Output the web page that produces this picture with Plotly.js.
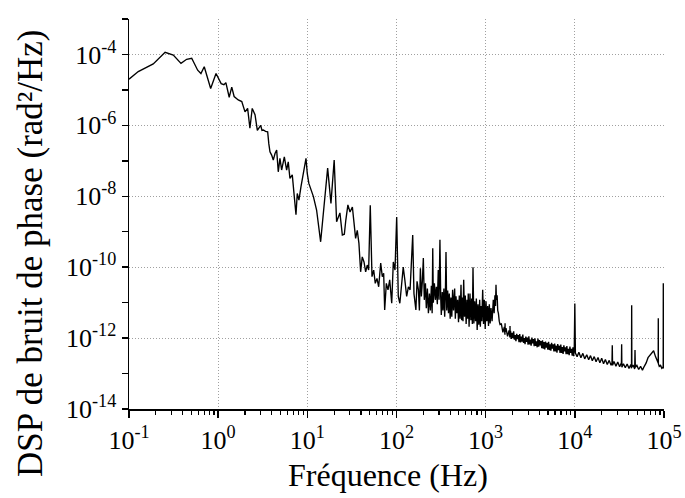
<!DOCTYPE html>
<html>
<head>
<meta charset="utf-8">
<script src="https://cdn.plot.ly/plotly-3.0.1.min.js"></script>
<style>html,body{margin:0;padding:0;background:#fff;}#chart{width:685px;height:498px;}</style>
</head>
<body>
<div id="chart"></div>
<script>
// ---- Data: frequency (Hz) and phase-noise PSD (rad^2/Hz) ----
// Segment A: 0.1 Hz - 1.9 kHz
const freqA = [
  0.1, 0.127, 0.187, 0.254, 0.314, 0.383, 0.443, 0.505, 0.589, 0.641, 0.698, 0.824, 0.946,
  1.08, 1.16, 1.22, 1.33, 1.42, 1.51, 1.68, 1.84, 2.0, 2.14, 2.27, 2.41, 2.59, 2.75, 2.89,
  3.0, 3.1, 3.21, 3.4, 3.59, 3.7, 3.81, 3.98, 4.15, 4.34, 4.53, 4.72, 4.93, 5.15, 5.52, 5.86,
  6.11, 6.38, 6.78, 7.14, 7.46, 7.71, 8.05, 8.48, 8.86, 9.24, 9.66, 9.98, 10.4, 11.7, 12.7,
  14.1, 15.4, 16.9, 18.4, 20.0, 21.3, 23.2, 24.7, 26.0, 27.0, 28.5, 30.1, 32.0, 33.3, 34.8,
  36.3, 37.9, 39.6, 41.3, 43.2, 45.1, 47.0, 48.7, 50.8, 53.1, 55.5, 57.8, 60.4, 63.1, 66.5,
  69.3, 71.8, 73.7, 76.9, 80.3, 83.9, 88.4, 92.1, 96.2, 100.5, 104.7, 109, 114, 119, 124,
  130, 136, 142, 152, 157, 165, 170,
  176, 180.6, 185.3, 190, 195, 200, 205, 211, 216, 222, 228, 234, 240, 246, 251, 255, 259, 266,
  273, 280, 287, 294, 300, 307, 313, 318, 326, 332, 340, 347, 353, 359, 366, 375, 383, 391, 400,
  408, 417, 426, 436, 449, 457, 465, 475, 485, 496, 506, 517, 529, 538, 547, 557, 567, 579, 591,
  604, 617, 628, 638, 652, 667, 682, 697, 709, 721, 737, 753, 770, 786, 803, 820, 838, 857, 872,
  887, 906, 926, 946, 966, 988, 1009, 1031, 1054, 1076, 1099, 1123, 1148, 1180, 1218, 1245, 1270,
  1290, 1306, 1320, 1345, 1365, 1390, 1420, 1449,
  1500, 1560, 1620, 1645, 1650, 1655, 1690, 1760, 1830, 1870, 1875, 1880
];
const psdA = [
  2.0e-5, 3.3e-5, 5.4e-5, 1.15e-4, 9.6e-5, 5.6e-5, 7.3e-5, 7.8e-5, 3.6e-5, 2.9e-5, 4.5e-5, 1.1e-5, 2.9e-5,
  1.5e-5, 1.4e-5, 1.6e-5, 6.2e-6, 1.2e-5, 6.5e-6, 5.2e-6, 4.7e-6, 2.4e-6, 3.0e-6, 8.3e-7, 3.0e-6, 2.0e-6, 7.2e-7, 8.5e-7,
  1.0e-6, 7.2e-7, 7.4e-7, 6.8e-7, 6.6e-7, 3.0e-7, 1.8e-7, 1.45e-7, 1.05e-7, 1.6e-7, 2.0e-7, 4.9e-8, 1.17e-7, 5.5e-8, 1.3e-7, 5.5e-8,
  9.3e-8, 3.2e-8, 4.0e-8, 9.8e-9, 3.0e-9, 1.2e-8, 7.8e-9, 1.85e-8, 3.6e-8, 6.8e-8, 1.17e-7, 4.4e-8, 2.3e-8, 9.8e-9, 4.1e-9,
  5.2e-10, 4.6e-9, 6.2e-8, 6.3e-9, 1.05e-7, 1.9e-9, 3.4e-9, 8.1e-10, 8.5e-10, 2.1e-9, 5.7e-9, 3.6e-9, 5.0e-9, 1.9e-9, 6.5e-10,
  1.1e-9, 4.7e-10, 7.4e-11, 1.95e-10, 1.4e-10, 7.4e-11, 1.15e-10, 8.3e-11, 5.6e-9, 5.4e-11, 8.3e-11, 3.5e-11, 4.8e-11, 2.8e-11, 1.3e-10,
  5.4e-11, 6.7e-11, 6.2e-12, 3.5e-11, 2.3e-11, 4.4e-11, 9.6e-12, 1.4e-10, 8.3e-11, 2.6e-9, 1.5e-11, 9.6e-12, 2.8e-11, 1.0e-10, 4.4e-11,
  1.5e-11, 2.8e-11, 2.3e-11, 8.1e-10, 1.8e-11, 6.2e-12, 4.0e-11,
  2.3e-11, 6.0e-12, 9.3e-11, 1.5e-11, 4.0e-11, 1.8e-10, 1.2e-11, 3.5e-11, 7.0e-12, 2.5e-11, 5.0e-12, 1.8e-11, 6.0e-12, 3.0e-11, 5.0e-12, 3.4e-10, 1.0e-11, 3.5e-11,
  1.2e-11, 2.8e-11, 9.0e-12, 8.3e-11, 1.2e-11, 5.9e-10, 1.5e-11, 4.5e-12, 2.0e-11, 6.0e-12, 2.5e-11, 4.0e-12, 1.5e-11, 2.7e-10, 6.0e-12, 2.2e-11, 5.0e-12, 1.8e-11, 3.5e-12,
  1.4e-11, 4.0e-12, 2.3e-11, 6.0e-12, 2.5e-11, 3.5e-12, 1.5e-11, 5.0e-12, 1.2e-11, 2.8e-12, 1.6e-11, 3.5e-12, 3.2e-11, 3.2e-12, 1.4e-11, 3.0e-12, 4.4e-11, 4.0e-12, 1.6e-11,
  2.5e-12, 1.2e-11, 3.5e-12, 1.8e-11, 2.1e-12, 1.8e-11, 3.2e-12, 1.3e-11, 2.5e-12, 1.0e-10, 2.6e-12, 1.1e-11, 3.0e-12, 1.3e-11, 1.7e-12, 9.0e-12, 2.4e-12, 1.2e-11, 2.1e-12,
  8.0e-12, 3.0e-12, 2.3e-11, 2.5e-12, 1.2e-11, 1.8e-12, 1.1e-11, 3.0e-12, 8.0e-12, 2.2e-12, 9.0e-12, 2.6e-12, 7.0e-12, 3.0e-12, 1.2e-11, 5.0e-12, 1.6e-11,
  8.0e-12, 3.2e-11, 1.2e-11, 1.6e-11, 6.0e-12, 5.0e-12, 3.0e-12, 2.4e-12,
  2.5e-12, 1.45e-12, 2.05e-12, 1.25e-12, 2.6e-12, 1.5e-12, 1.9e-12, 1.12e-12, 1.65e-12, 1.05e-12, 2.2e-12, 1.3e-12
];
// Segment B: noise floor band 1.9 kHz - 9.85 kHz
const freqB = [
  1900, 1940, 1980, 2020, 2060, 2100, 2140, 2185, 2230, 2275, 2320, 2365, 2410, 2460, 2510, 2560,
  2610, 2660, 2710, 2765, 2820, 2875, 2930, 2990, 3050, 3110, 3170, 3235, 3300, 3365, 3430, 3500,
  3570, 3640, 3710, 3785, 3860, 3935, 4010, 4090, 4170, 4255, 4340, 4425, 4510, 4600, 4690, 4785,
  4880, 4980, 5080, 5180, 5280, 5385, 5490, 5600, 5710, 5825, 5940, 6060, 6180, 6305, 6430, 6560,
  6690, 6825, 6960, 7100, 7240, 7385, 7530, 7680, 7830, 7985, 8140, 8305, 8470, 8640, 8810, 8985,
  9160, 9345, 9530, 9690, 9850
];
const psdB = [
  1.6e-12, 0.95e-12, 1.4e-12, 1.0e-12, 1.55e-12, 0.9e-12, 1.22e-12, 0.82e-12, 1.32e-12, 0.94e-12, 1.22e-12, 0.77e-12, 1.29e-12, 0.76e-12, 1.1e-12, 0.8e-12,
  1.25e-12, 0.73e-12, 1.0e-12, 0.67e-12, 1.1e-12, 0.78e-12, 1.03e-12, 0.65e-12, 1.13e-12, 0.66e-12, 0.9e-12, 0.61e-12, 1.04e-12, 0.71e-12, 0.94e-12, 0.59e-12,
  0.99e-12, 0.6e-12, 0.81e-12, 0.55e-12, 0.97e-12, 0.57e-12, 0.88e-12, 0.62e-12, 0.82e-12, 0.52e-12, 0.86e-12, 0.5e-12, 0.77e-12, 0.48e-12, 0.8e-12, 0.54e-12,
  0.74e-12, 0.47e-12, 0.78e-12, 0.46e-12, 0.67e-12, 0.44e-12, 0.74e-12, 0.5e-12, 0.67e-12, 0.42e-12, 0.7e-12, 0.42e-12, 0.61e-12, 0.39e-12, 0.68e-12, 0.46e-12,
  0.61e-12, 0.38e-12, 0.66e-12, 0.38e-12, 0.56e-12, 0.36e-12, 0.63e-12, 0.42e-12, 0.55e-12, 0.35e-12, 0.6e-12, 0.35e-12, 0.5e-12, 0.33e-12, 0.58e-12, 0.38e-12,
  0.5e-12, 0.32e-12, 0.55e-12, 0.31e-12, 0.5e-12
];
// Segment C: 10 kHz - 100 kHz
const freqC = [
  10000, 10150,
  10600, 11100, 11700, 12300, 12900, 13600, 14300, 15000, 15700, 16500, 17300, 18200, 19100,
  20000, 21000, 22000, 23100, 24300, 25500, 26100, 26300, 26500, 27500, 28900, 30300, 31800,
  33300, 33500, 33700, 35100, 36800, 38600, 40500, 42500, 43200, 43400, 43600, 45000, 46900,
  47300, 47700, 49600, 52000, 54600, 57300, 60100, 63100, 66200, 69500, 72900, 76500, 80300,
  84200, 86100, 86300, 86500, 88500, 91500, 94500, 97300, 97900, 98200, 98500, 100000
];
const psdC = [
  9.5e-12, 0.38e-12,
  0.3e-12, 0.4e-12, 0.28e-12, 0.37e-12, 0.26e-12, 0.34e-12, 0.245e-12, 0.32e-12, 0.23e-12, 0.3e-12, 0.215e-12, 0.285e-12, 0.2e-12,
  0.27e-12, 0.19e-12, 0.25e-12, 0.18e-12, 0.235e-12, 0.17e-12, 0.2e-12, 6.3e-13, 0.17e-12, 0.22e-12, 0.16e-12, 0.21e-12, 0.155e-12,
  0.2e-12, 6.7e-13, 0.15e-12, 0.19e-12, 0.145e-12, 0.185e-12, 0.14e-12, 0.18e-12, 0.14e-12, 8.5e-12, 0.15e-12, 0.175e-12, 0.135e-12,
  4.6e-13, 0.15e-12, 0.17e-12, 0.13e-12, 0.16e-12, 0.125e-12, 0.16e-12, 0.2e-12, 0.28e-12, 0.33e-12, 0.4e-12, 0.44e-12, 0.3e-12,
  0.23e-12, 0.2e-12, 3.6e-12, 0.19e-12, 0.16e-12, 0.17e-12, 0.14e-12, 0.15e-12, 0.14e-12, 3.5e-11, 0.15e-12, 0.14e-12
];
// Tick labels and titles
const xTickVals = [1e-1, 1e0, 1e1, 1e2, 1e3, 1e4, 1e5];
const xTickText = ['10<sup>-1</sup>', '10<sup>0</sup>', '10<sup>1</sup>', '10<sup>2</sup>', '10<sup>3</sup>', '10<sup>4</sup>', '10<sup>5</sup>'];
const yTickVals = [1e-14, 1e-12, 1e-10, 1e-8, 1e-6, 1e-4];
const yTickText = ['10<sup>-14</sup>', '10<sup>-12</sup>', '10<sup>-10</sup>', '10<sup>-8</sup>', '10<sup>-6</sup>', '10<sup>-4</sup>'];
const yMinorVals = [1e-13, 1e-11, 1e-9, 1e-7, 1e-5, 1e-3];
const xTitle = 'Fréquence (Hz)';
const yTitle = 'DSP de bruit de phase (rad²/Hz)';

const freq = freqA.concat(freqB, freqC);
const psd = psdA.concat(psdB, psdC);

const xMinorVals = [];
for (let e = -1; e < 5; e++) {
  for (let m = 2; m <= 9; m++) xMinorVals.push(m * Math.pow(10, e));
}

const FONT = '"Liberation Serif", "DejaVu Serif", serif';

const trace = {
  x: freq, y: psd, type: 'scatter', mode: 'lines',
  line: {color: '#000', width: 1.35}, hoverinfo: 'skip'
};

const layout = {
  width: 685, height: 498,
  margin: {l: 129, r: 21, t: 19, b: 89},
  paper_bgcolor: '#fff', plot_bgcolor: '#fff',
  showlegend: false,
  font: {family: FONT, color: '#000'},
  xaxis: {
    type: 'log', range: [-1, 5], autorange: false,
    showline: true, linecolor: '#000', linewidth: 1.5, mirror: false,
    ticks: 'outside', ticklen: 7, tickwidth: 1.5, tickcolor: '#000',
    tickmode: 'array', tickvals: xTickVals, ticktext: xTickText,
    tickfont: {family: FONT, size: 26, color: '#000'},
    showgrid: true, gridcolor: '#a0a0a0', griddash: '1px,2px', gridwidth: 1,
    zeroline: false,
    minor: {ticks: 'outside', ticklen: 4, tickwidth: 1.2, tickcolor: '#000',
            tickmode: 'array', tickvals: xMinorVals, showgrid: false},
    automargin: false
  },
  yaxis: {
    type: 'log', range: [-14, -3], autorange: false,
    showline: true, linecolor: '#000', linewidth: 1.5, mirror: false,
    ticks: 'outside', ticklen: 6, tickwidth: 1.5, tickcolor: '#000',
    tickmode: 'array', tickvals: yTickVals, ticktext: yTickText,
    tickfont: {family: FONT, size: 26, color: '#000'},
    showgrid: true, gridcolor: '#a0a0a0', griddash: '1px,2px', gridwidth: 1,
    zeroline: false,
    minor: {ticks: 'outside', ticklen: 6, tickwidth: 1.5, tickcolor: '#000',
            tickmode: 'array', tickvals: yMinorVals, showgrid: false},
    automargin: false
  },
  annotations: [
    {text: xTitle, xref: 'paper', yref: 'paper', x: 0.485, y: -0.169,
     xanchor: 'center', yanchor: 'middle', showarrow: false,
     font: {family: FONT, size: 32, color: '#000'}},
    {text: yTitle, xref: 'paper', yref: 'paper', x: -0.185, y: 0.40,
     xanchor: 'center', yanchor: 'middle', showarrow: false, textangle: -90,
     font: {family: FONT, size: 35, color: '#000'}}
  ]
};

Plotly.newPlot('chart', [trace], layout, {displayModeBar: false, staticPlot: true});
</script>
</body>
</html>
